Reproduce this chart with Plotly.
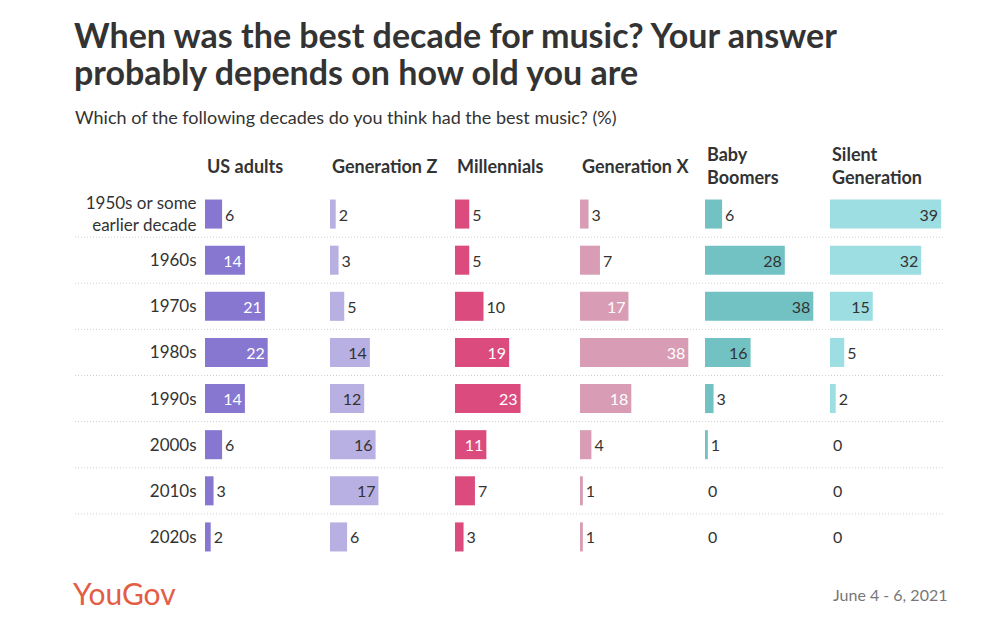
import plotly.graph_objects as go

decades = ["1950s or some<br>earlier decade", "1960s", "1970s", "1980s", "1990s", "2000s", "2010s", "2020s"]
groups = ["US adults", "Generation Z", "Millennials", "Generation X", "Baby<br>Boomers", "Silent<br>Generation"]
us_adults = [6, 14, 21, 22, 14, 6, 3, 2]
gen_z = [2, 3, 5, 14, 12, 16, 17, 6]
millennials = [5, 5, 10, 19, 23, 11, 7, 3]
gen_x = [3, 7, 17, 38, 18, 4, 1, 1]
boomers = [6, 28, 38, 16, 3, 1, 0, 0]
silent = [39, 32, 15, 5, 2, 0, 0, 0]
series = [us_adults, gen_z, millennials, gen_x, boomers, silent]
colors = ["#8777d1", "#b8b0e2", "#db4b7d", "#d89db4", "#72c2c3", "#9cdee1"]
inside_text_colors = ["#ffffff", "#333333", "#ffffff", "#ffffff", "#333333", "#333333"]
title_lines = ["When was the best decade for music? Your answer",
               "probably depends on how old you are"]

W, H = 1007, 631
FONT = "Lato"
DARK = "#333333"
panel_left0, panel_step, panel_w = 205, 125, 120
px_per_unit = 2.85
plot_top, plot_bottom = 191, 560

fig = go.Figure()
for i, (vals, col) in enumerate(zip(series, colors)):
    ax = "" if i == 0 else str(i + 1)
    fig.add_trace(go.Bar(
        y=decades, x=vals, orientation="h",
        xaxis="x" + ax, yaxis="y",
        marker=dict(color=col, line=dict(width=0)),
        width=0.63,
        text=[str(v) for v in vals],
        textposition=["inside" if v >= 11 else "outside" for v in vals],
        insidetextanchor="end",
        insidetextfont=dict(family=FONT, size=16, color=inside_text_colors[i]),
        outsidetextfont=dict(family=FONT, size=16, color=DARK),
        cliponaxis=False,
        hoverinfo="skip",
        showlegend=False,
    ))
    left = panel_left0 + panel_step * i
    fig.layout["xaxis" + ax] = dict(
        domain=[left / W, (left + panel_w) / W],
        range=[0, panel_w / px_per_unit],
        visible=False, anchor="y", fixedrange=True,
    )
    fig.add_annotation(
        text="<b>" + groups[i] + "</b>", xref="paper", yref="paper",
        x=left / W, y=(H - 166) / H, xanchor="left", yanchor="middle",
        align="left", showarrow=False,
        font=dict(family=FONT, size=18, color=DARK),
    )

fig.update_layout(
    yaxis=dict(
        domain=[(H - plot_bottom) / H, (H - plot_top) / H],
        autorange=False, range=[len(decades) - 0.5, -0.5],
        type="category", showgrid=False, zeroline=False, showline=False,
        ticks="outside", ticklen=4, tickcolor="rgba(0,0,0,0)",
        tickfont=dict(family=FONT, size=17, color=DARK),
        anchor="x", fixedrange=True,
    ),
)

for k in range(len(decades) - 1):
    fig.add_shape(type="line", xref="paper", yref="y",
                  x0=75 / W, x1=945 / W, y0=k + 0.5, y1=k + 0.5,
                  line=dict(color="#cfcfcf", width=1, dash="1px,2px"), layer="below")

for j, line in enumerate(title_lines):
    fig.add_annotation(
        text="<b>" + line + "</b>",
        xref="paper", yref="paper", x=72 / W, y=(H - (35 + 37 * j)) / H,
        xanchor="left", yanchor="middle", align="left", showarrow=False,
        font=dict(family=FONT, size=34, color=DARK),
    )
fig.add_annotation(
    text="Which of the following decades do you think had the best music? (%)",
    xref="paper", yref="paper", x=73 / W, y=(H - 117) / H,
    xanchor="left", yanchor="middle", align="left", showarrow=False,
    font=dict(family=FONT, size=18, color=DARK),
)
fig.add_annotation(
    text="YouGov", xref="paper", yref="paper", x=71 / W, y=(H - 593) / H,
    xanchor="left", yanchor="middle", showarrow=False,
    font=dict(family=FONT, size=30, color="#e35d45"),
)
fig.add_annotation(
    text="June 4 - 6, 2021", xref="paper", yref="paper", x=949 / W, y=(H - 594) / H,
    xanchor="right", yanchor="middle", showarrow=False,
    font=dict(family=FONT, size=16, color="#777777"),
)

fig.update_layout(
    width=W, height=H, margin=dict(l=0, r=0, t=0, b=0),
    paper_bgcolor="white", plot_bgcolor="white",
    barmode="group", font=dict(family=FONT, color=DARK),
)

fig.write_html("out.html")
